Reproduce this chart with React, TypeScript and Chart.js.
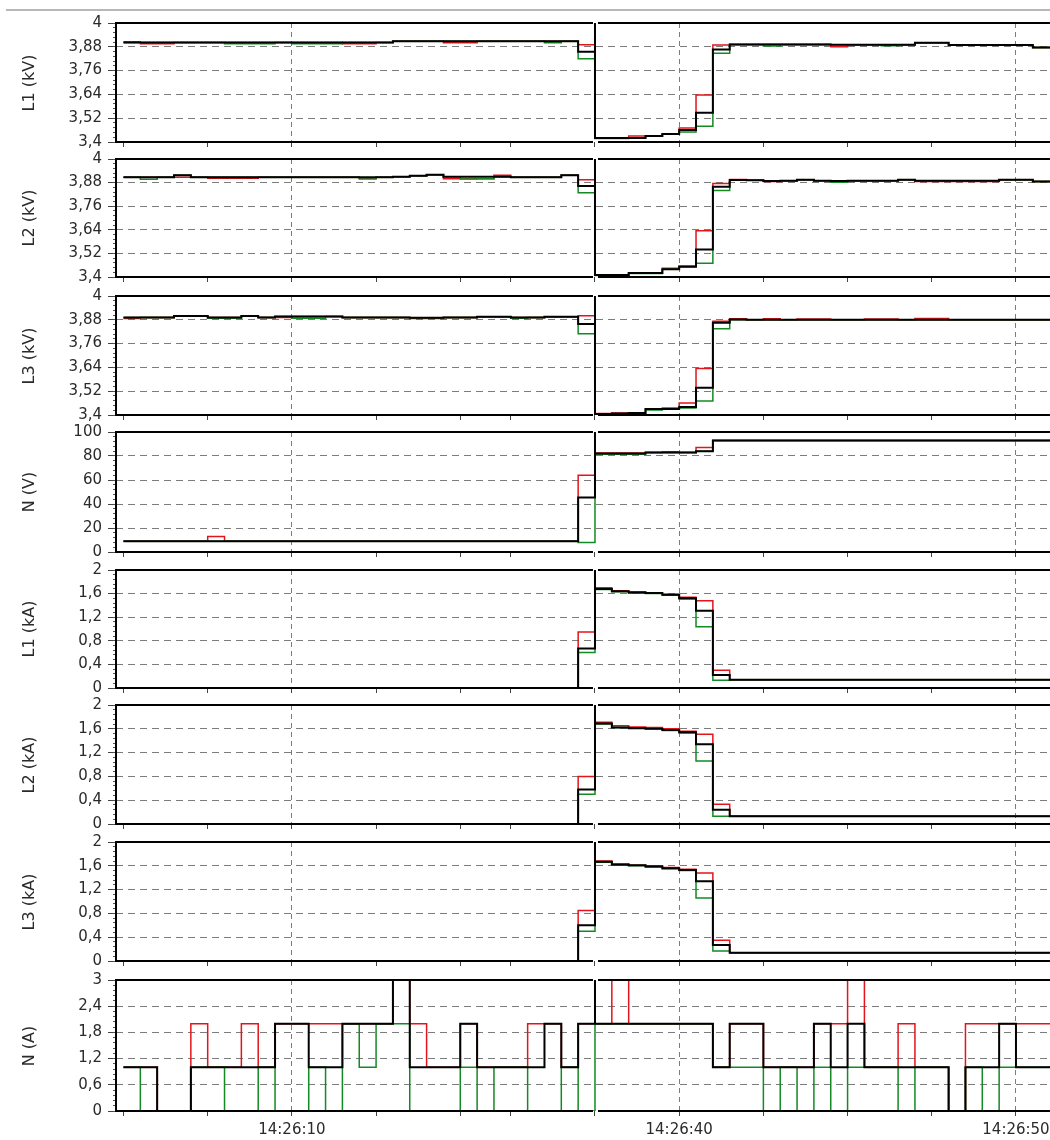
import React, { useEffect, useRef } from 'react';
import { Chart, registerables } from 'chart.js';

Chart.register(...registerables);

// ---------- x axis (sample index, 0.5 s per sample, recording break at sample 28) ----------
const timeTickIdx = [0, 5, 10, 15, 20, 23, 28, 33, 38, 43, 48, 53];
const timeTickLabels = ['', '', '14:26:10', '', '', '', '', '14:26:40', '', '', '', '14:26:50'];
const gridTimeIdx = [10, 33, 53];
const breakIdx = 28;

// ---------- y axis ticks ----------
const kvTicks = [3.4, 3.52, 3.64, 3.76, 3.88, 4];
const kvTickLabels = ['3,4', '3,52', '3,64', '3,76', '3,88', '4'];
const nvTicks = [0, 20, 40, 60, 80, 100];
const nvTickLabels = ['0', '20', '40', '60', '80', '100'];
const kaTicks = [0, 0.4, 0.8, 1.2, 1.6, 2];
const kaTickLabels = ['0', '0,4', '0,8', '1,2', '1,6', '2'];
const naTicks = [0, 0.6, 1.2, 1.8, 2.4, 3];
const naTickLabels = ['0', '0,6', '1,2', '1,8', '2,4', '3'];
const minorPerMajor = 5;

const panelTitles = ['L1 (kV)', 'L2 (kV)', 'L3 (kV)', 'N (V)', 'L1 (kA)', 'L2 (kA)', 'L3 (kA)', 'N (A)'];

// ---------- series (one value per 0.5 s sample) ----------
const l1kvRed = [
  3.905, 3.895, 3.895, 3.902, 3.902, 3.902, 3.902, 3.902, 3.902, 3.902,
  3.902, 3.902, 3.902, 3.895, 3.895, 3.902, 3.908, 3.908, 3.908, 3.9,
  3.9, 3.908, 3.908, 3.908, 3.908, 3.908, 3.908, 3.89,
  3.42, 3.42, 3.43, 3.43, 3.44, 3.47, 3.637, 3.889, 3.893, 3.893,
  3.893, 3.893, 3.893, 3.893, 3.88, 3.89, 3.89, 3.89, 3.89, 3.9,
  3.9, 3.889, 3.889, 3.889, 3.889, 3.889, 3.877, 3.877,
];
const l1kvGreen = [
  3.902, 3.902, 3.902, 3.902, 3.902, 3.902, 3.895, 3.895, 3.895, 3.902,
  3.895, 3.895, 3.895, 3.902, 3.902, 3.902, 3.908, 3.908, 3.908, 3.908,
  3.908, 3.908, 3.908, 3.908, 3.908, 3.9, 3.908, 3.82,
  3.418, 3.418, 3.42, 3.43, 3.44, 3.45, 3.48, 3.847, 3.89, 3.89,
  3.884, 3.89, 3.89, 3.89, 3.89, 3.89, 3.89, 3.885, 3.89, 3.9,
  3.9, 3.889, 3.889, 3.889, 3.889, 3.889, 3.877, 3.877,
];
const l1kvBlack = [
  3.902, 3.902, 3.902, 3.902, 3.902, 3.902, 3.902, 3.902, 3.902, 3.902,
  3.902, 3.902, 3.902, 3.902, 3.902, 3.902, 3.908, 3.908, 3.908, 3.908,
  3.908, 3.908, 3.908, 3.908, 3.908, 3.908, 3.908, 3.855,
  3.42, 3.42, 3.42, 3.43, 3.44, 3.46, 3.548, 3.867, 3.892, 3.892,
  3.892, 3.892, 3.892, 3.892, 3.89, 3.89, 3.89, 3.89, 3.89, 3.9,
  3.9, 3.889, 3.889, 3.889, 3.889, 3.889, 3.877, 3.877,
];

const l2kvRed = [
  3.907, 3.907, 3.907, 3.907, 3.907, 3.902, 3.902, 3.902, 3.907, 3.907,
  3.907, 3.907, 3.907, 3.907, 3.904, 3.907, 3.91, 3.915, 3.92, 3.9,
  3.9, 3.9, 3.918, 3.907, 3.907, 3.907, 3.918, 3.895,
  3.41, 3.41, 3.42, 3.42, 3.445, 3.455, 3.635, 3.876, 3.896, 3.892,
  3.885, 3.89, 3.895, 3.89, 3.888, 3.89, 3.89, 3.89, 3.895, 3.886,
  3.886, 3.886, 3.886, 3.886, 3.895, 3.895, 3.885, 3.885,
];
const l2kvGreen = [
  3.907, 3.897, 3.907, 3.918, 3.907, 3.907, 3.907, 3.907, 3.907, 3.907,
  3.907, 3.907, 3.907, 3.907, 3.898, 3.907, 3.91, 3.915, 3.92, 3.91,
  3.898, 3.9, 3.91, 3.907, 3.907, 3.907, 3.918, 3.829,
  3.408, 3.408, 3.418, 3.418, 3.44, 3.45, 3.47, 3.84, 3.893, 3.892,
  3.888, 3.89, 3.895, 3.89, 3.882, 3.89, 3.89, 3.89, 3.895, 3.889,
  3.889, 3.889, 3.889, 3.889, 3.895, 3.895, 3.885, 3.885,
];
const l2kvBlack = [
  3.907, 3.907, 3.907, 3.918, 3.907, 3.907, 3.907, 3.907, 3.907, 3.907,
  3.907, 3.907, 3.907, 3.907, 3.907, 3.907, 3.91, 3.915, 3.92, 3.91,
  3.91, 3.91, 3.91, 3.907, 3.907, 3.907, 3.918, 3.863,
  3.41, 3.41, 3.42, 3.42, 3.44, 3.453, 3.54, 3.859, 3.893, 3.892,
  3.888, 3.89, 3.895, 3.89, 3.888, 3.89, 3.89, 3.89, 3.895, 3.889,
  3.889, 3.889, 3.889, 3.889, 3.895, 3.895, 3.885, 3.885,
];

const l3kvRed = [
  3.886, 3.892, 3.892, 3.899, 3.899, 3.892, 3.892, 3.899, 3.892, 3.892,
  3.897, 3.897, 3.897, 3.892, 3.892, 3.892, 3.892, 3.887, 3.887, 3.892,
  3.892, 3.896, 3.896, 3.892, 3.892, 3.896, 3.896, 3.9,
  3.408, 3.41, 3.41, 3.43, 3.435, 3.46, 3.634, 3.873, 3.885, 3.88,
  3.885, 3.88, 3.884, 3.884, 3.88, 3.88, 3.884, 3.884, 3.88, 3.886,
  3.886, 3.88, 3.88, 3.88, 3.88, 3.88, 3.88, 3.88,
];
const l3kvGreen = [
  3.892, 3.892, 3.892, 3.899, 3.899, 3.888, 3.888, 3.899, 3.892, 3.897,
  3.888, 3.888, 3.897, 3.892, 3.892, 3.892, 3.892, 3.89, 3.89, 3.892,
  3.892, 3.896, 3.896, 3.888, 3.892, 3.896, 3.896, 3.81,
  3.4, 3.403, 3.408, 3.425, 3.43, 3.435, 3.47, 3.835, 3.88, 3.88,
  3.88, 3.88, 3.88, 3.88, 3.88, 3.88, 3.88, 3.88, 3.88, 3.88,
  3.88, 3.88, 3.88, 3.88, 3.88, 3.88, 3.88, 3.88,
];
const l3kvBlack = [
  3.892, 3.892, 3.892, 3.899, 3.899, 3.892, 3.892, 3.899, 3.892, 3.897,
  3.897, 3.897, 3.897, 3.892, 3.892, 3.892, 3.892, 3.89, 3.89, 3.892,
  3.892, 3.896, 3.896, 3.892, 3.892, 3.896, 3.896, 3.859,
  3.405, 3.407, 3.41, 3.43, 3.43, 3.44, 3.537, 3.865, 3.882, 3.88,
  3.88, 3.88, 3.88, 3.88, 3.88, 3.88, 3.88, 3.88, 3.88, 3.88,
  3.88, 3.88, 3.88, 3.88, 3.88, 3.88, 3.88, 3.88,
];

const nvRed = [
  9, 9, 9, 9, 9, 13, 9, 9, 9, 9,
  9, 9, 9, 9, 9, 9, 9, 9, 9, 9,
  9, 9, 9, 9, 9, 9, 9, 64,
  82.5, 82.5, 82.5, 83, 83, 83, 87, 93, 93, 93,
  93, 93, 93, 93, 93, 93, 93, 93, 93, 93,
  93, 93, 93, 93, 93, 93, 93, 93,
];
const nvGreen = [
  9, 9, 9, 9, 9, 9, 9, 9, 9, 9,
  9, 9, 9, 9, 9, 9, 9, 9, 9, 9,
  9, 9, 9, 9, 9, 9, 9, 8,
  81.5, 81.5, 81.5, 83, 83.5, 83, 84, 93, 93, 93,
  93, 93, 93, 93, 93, 93, 93, 93, 93, 93,
  93, 93, 93, 93, 93, 93, 93, 93,
];
const nvBlack = [
  9, 9, 9, 9, 9, 9, 9, 9, 9, 9,
  9, 9, 9, 9, 9, 9, 9, 9, 9, 9,
  9, 9, 9, 9, 9, 9, 9, 45.5,
  82, 82, 82, 83, 83, 83, 84, 93, 93, 93,
  93, 93, 93, 93, 93, 93, 93, 93, 93, 93,
  93, 93, 93, 93, 93, 93, 93, 93,
];

const l1kaRed = [
  0, 0, 0, 0, 0, 0, 0, 0, 0, 0,
  0, 0, 0, 0, 0, 0, 0, 0, 0, 0,
  0, 0, 0, 0, 0, 0, 0, 0.95,
  1.7, 1.65, 1.63, 1.61, 1.59, 1.54, 1.48, 0.3, 0.14, 0.14,
  0.14, 0.14, 0.14, 0.14, 0.14, 0.14, 0.14, 0.14, 0.14, 0.14,
  0.14, 0.14, 0.14, 0.14, 0.14, 0.14, 0.14, 0.14,
];
const l1kaGreen = [
  0, 0, 0, 0, 0, 0, 0, 0, 0, 0,
  0, 0, 0, 0, 0, 0, 0, 0, 0, 0,
  0, 0, 0, 0, 0, 0, 0, 0.6,
  1.67, 1.63, 1.61, 1.6, 1.57, 1.51, 1.04, 0.13, 0.14, 0.14,
  0.14, 0.14, 0.14, 0.14, 0.14, 0.14, 0.14, 0.14, 0.14, 0.14,
  0.14, 0.14, 0.14, 0.14, 0.14, 0.14, 0.14, 0.14,
];
const l1kaBlack = [
  0, 0, 0, 0, 0, 0, 0, 0, 0, 0,
  0, 0, 0, 0, 0, 0, 0, 0, 0, 0,
  0, 0, 0, 0, 0, 0, 0, 0.67,
  1.68, 1.64, 1.62, 1.61, 1.58, 1.52, 1.31, 0.22, 0.14, 0.14,
  0.14, 0.14, 0.14, 0.14, 0.14, 0.14, 0.14, 0.14, 0.14, 0.14,
  0.14, 0.14, 0.14, 0.14, 0.14, 0.14, 0.14, 0.14,
];

const l2kaRed = [
  0, 0, 0, 0, 0, 0, 0, 0, 0, 0,
  0, 0, 0, 0, 0, 0, 0, 0, 0, 0,
  0, 0, 0, 0, 0, 0, 0, 0.8,
  1.71, 1.65, 1.63, 1.62, 1.6, 1.56, 1.51, 0.33, 0.13, 0.13,
  0.13, 0.13, 0.13, 0.13, 0.13, 0.13, 0.13, 0.13, 0.13, 0.13,
  0.13, 0.13, 0.13, 0.13, 0.13, 0.13, 0.13, 0.13,
];
const l2kaGreen = [
  0, 0, 0, 0, 0, 0, 0, 0, 0, 0,
  0, 0, 0, 0, 0, 0, 0, 0, 0, 0,
  0, 0, 0, 0, 0, 0, 0, 0.5,
  1.68, 1.62, 1.61, 1.6, 1.57, 1.53, 1.06, 0.13, 0.13, 0.13,
  0.13, 0.13, 0.13, 0.13, 0.13, 0.13, 0.13, 0.13, 0.13, 0.13,
  0.13, 0.13, 0.13, 0.13, 0.13, 0.13, 0.13, 0.13,
];
const l2kaBlack = [
  0, 0, 0, 0, 0, 0, 0, 0, 0, 0,
  0, 0, 0, 0, 0, 0, 0, 0, 0, 0,
  0, 0, 0, 0, 0, 0, 0, 0.58,
  1.69, 1.62, 1.61, 1.6, 1.58, 1.54, 1.34, 0.24, 0.13, 0.13,
  0.13, 0.13, 0.13, 0.13, 0.13, 0.13, 0.13, 0.13, 0.13, 0.13,
  0.13, 0.13, 0.13, 0.13, 0.13, 0.13, 0.13, 0.13,
];

const l3kaRed = [
  0, 0, 0, 0, 0, 0, 0, 0, 0, 0,
  0, 0, 0, 0, 0, 0, 0, 0, 0, 0,
  0, 0, 0, 0, 0, 0, 0, 0.85,
  1.68, 1.63, 1.61, 1.6, 1.57, 1.54, 1.48, 0.35, 0.14, 0.14,
  0.14, 0.14, 0.14, 0.14, 0.14, 0.14, 0.14, 0.14, 0.14, 0.14,
  0.14, 0.14, 0.14, 0.14, 0.14, 0.14, 0.14, 0.14,
];
const l3kaGreen = [
  0, 0, 0, 0, 0, 0, 0, 0, 0, 0,
  0, 0, 0, 0, 0, 0, 0, 0, 0, 0,
  0, 0, 0, 0, 0, 0, 0, 0.5,
  1.66, 1.61, 1.6, 1.58, 1.55, 1.52, 1.06, 0.17, 0.14, 0.14,
  0.14, 0.14, 0.14, 0.14, 0.14, 0.14, 0.14, 0.14, 0.14, 0.14,
  0.14, 0.14, 0.14, 0.14, 0.14, 0.14, 0.14, 0.14,
];
const l3kaBlack = [
  0, 0, 0, 0, 0, 0, 0, 0, 0, 0,
  0, 0, 0, 0, 0, 0, 0, 0, 0, 0,
  0, 0, 0, 0, 0, 0, 0, 0.6,
  1.67, 1.62, 1.61, 1.59, 1.56, 1.53, 1.34, 0.27, 0.14, 0.14,
  0.14, 0.14, 0.14, 0.14, 0.14, 0.14, 0.14, 0.14, 0.14, 0.14,
  0.14, 0.14, 0.14, 0.14, 0.14, 0.14, 0.14, 0.14,
];

const naRed = [
  1, 1, 0, 0, 2, 1, 1, 2, 1, 2,
  2, 2, 2, 2, 2, 2, 3, 2, 1, 1,
  2, 1, 1, 1, 2, 2, 1, 2,
  2, 3, 2, 2, 2, 2, 2, 1, 2, 2,
  1, 1, 1, 2, 2, 3, 1, 1, 2, 1,
  1, 0, 2, 2, 2, 2, 2, 2,
];
const naGreen = [
  1, 0, 0, 0, 1, 1, 0, 0, 1, 0,
  0, 1, 0, 2, 1, 2, 2, 0, 0, 0,
  1, 0, 1, 1, 0, 0, 1, 0,
  2, 2, 2, 2, 2, 2, 2, 1, 1, 1,
  0, 1, 0, 1, 0, 1, 1, 1, 0, 1,
  1, 0, 1, 0, 1, 1, 1, 1,
];
const naBlack = [
  1, 1, 0, 0, 1, 1, 1, 1, 1, 2,
  2, 1, 1, 2, 2, 2, 3, 1, 1, 1,
  2, 1, 1, 1, 1, 2, 1, 2,
  2, 2, 2, 2, 2, 2, 2, 1, 2, 2,
  1, 1, 1, 2, 1, 2, 1, 1, 1, 1,
  1, 0, 1, 1, 2, 1, 1, 1,
];

// ---------- layout ----------
const CANVAS_W = 1100;
const AXIS_W = 116;
const PAD_TOP = 18;
const X_MIN = -0.445;
const X_MAX = 57.99;
const panelTops = [23, 159, 296, 432, 570, 705, 842, 980];
const panelHeights = [119, 118, 119, 120, 118, 119, 119, 131];
const RED = '#e3141b';
const GREEN = '#138a22';
const GRID = '#7c7c7c';
const TEXT = '#2a2a2a';
const FONT = 'DejaVu Sans';

const panels = [
  { ticks: kvTicks, labels: kvTickLabels, red: l1kvRed, green: l1kvGreen, black: l1kvBlack },
  { ticks: kvTicks, labels: kvTickLabels, red: l2kvRed, green: l2kvGreen, black: l2kvBlack },
  { ticks: kvTicks, labels: kvTickLabels, red: l3kvRed, green: l3kvGreen, black: l3kvBlack },
  { ticks: nvTicks, labels: nvTickLabels, red: nvRed, green: nvGreen, black: nvBlack },
  { ticks: kaTicks, labels: kaTickLabels, red: l1kaRed, green: l1kaGreen, black: l1kaBlack },
  { ticks: kaTicks, labels: kaTickLabels, red: l2kaRed, green: l2kaGreen, black: l2kaBlack },
  { ticks: kaTicks, labels: kaTickLabels, red: l3kaRed, green: l3kaGreen, black: l3kaBlack },
  { ticks: naTicks, labels: naTickLabels, red: naRed, green: naGreen, black: naBlack },
];

function toPoints(vals: number[], breakMarker?: number) {
  const pts: { x: number; y: number }[] = [];
  vals.forEach((v, i) => {
    if (breakMarker !== undefined && i === breakIdx) pts.push({ x: i, y: breakMarker });
    pts.push({ x: i, y: v });
  });
  pts.push({ x: vals.length, y: vals[vals.length - 1] });
  return pts;
}

function minorTicks(major: number[]) {
  const out: number[] = [];
  for (let i = 0; i < major.length - 1; i++) {
    const step = (major[i + 1] - major[i]) / minorPerMajor;
    for (let k = 0; k < minorPerMajor; k++) out.push(major[i] + step * k);
  }
  out.push(major[major.length - 1]);
  return out;
}

const framePlugin = {
  id: 'frame',
  afterDatasetsDraw(chart: any) {
    const { ctx, chartArea } = chart;
    const { left, top, right, bottom } = chartArea;
    const bx = chart.scales.x.getPixelForValue(breakIdx);
    ctx.save();
    ctx.strokeStyle = '#000';
    ctx.lineWidth = 2;
    ctx.beginPath();
    ctx.moveTo(bx - 2, top);
    ctx.lineTo(left, top);
    ctx.lineTo(left, bottom);
    ctx.lineTo(bx - 2, bottom);
    ctx.moveTo(bx + 3, top);
    ctx.lineTo(right + 10, top);
    ctx.moveTo(bx + 3, bottom);
    ctx.lineTo(right + 10, bottom);
    ctx.stroke();
    ctx.restore();
  },
};

function Panel({ index }: { index: number }) {
  const ref = useRef<HTMLCanvasElement>(null);
  const p = panels[index];
  const isBottom = index === panels.length - 1;
  const axisH = isBottom ? 40 : 18;
  const h = PAD_TOP + panelHeights[index] + axisH;

  useEffect(() => {
    const yMin = p.ticks[0];
    const yMax = p.ticks[p.ticks.length - 1];
    const minor = minorTicks(p.ticks);
    const common = { stepped: true, pointRadius: 0, fill: false, tension: 0 };
    const chart = new Chart(ref.current as HTMLCanvasElement, {
      type: 'line',
      data: {
        datasets: [
          { ...common, data: toPoints(p.black, yMax), borderColor: '#000', borderWidth: 2 },
          { ...common, data: toPoints(p.green), borderColor: GREEN, borderWidth: 1.5 },
          { ...common, data: toPoints(p.red), borderColor: RED, borderWidth: 1.5 },
        ],
      } as any,
      options: {
        responsive: false,
        animation: false,
        devicePixelRatio: 1,
        events: [],
        layout: { padding: { top: PAD_TOP, left: 0, right: 0, bottom: 0 } },
        plugins: { legend: { display: false }, tooltip: { enabled: false } },
        scales: {
          x: {
            type: 'linear',
            min: X_MIN,
            max: X_MAX,
            afterBuildTicks: (s: any) => {
              s.ticks = timeTickIdx.map((v) => ({ value: v }));
            },
            afterFit: (s: any) => {
              s.height = axisH;
            },
            ticks: {
              display: isBottom,
              autoSkip: false,
              maxRotation: 0,
              padding: 5,
              color: TEXT,
              font: { family: FONT, size: 15 },
              callback: (_v: any, i: number) => timeTickLabels[i] ?? '',
            },
            grid: {
              color: (c: any) => (c.tick && gridTimeIdx.includes(c.tick.value) ? GRID : 'rgba(0,0,0,0)'),
              tickColor: '#444',
              tickLength: 5,
              lineWidth: 1,
            },
            border: { display: false, dash: [5, 4] },
          },
          y: {
            type: 'linear',
            position: 'left',
            weight: 1,
            min: yMin,
            max: yMax,
            afterBuildTicks: (s: any) => {
              s.ticks = p.ticks.map((v) => ({ value: v }));
            },
            afterFit: (s: any) => {
              s.width = AXIS_W;
            },
            ticks: {
              autoSkip: false,
              padding: 6,
              color: TEXT,
              font: { family: FONT, size: 15 },
              callback: (_v: any, i: number) => p.labels[i] ?? '',
            },
            grid: {
              color: (c: any) => (c.index === 0 || c.index === p.ticks.length - 1 ? 'rgba(0,0,0,0)' : GRID),
              tickColor: '#444',
              tickLength: 8,
              lineWidth: 1,
            },
            border: { display: false, dash: [7, 5] },
          },
          yMinor: {
            type: 'linear',
            position: 'left',
            weight: 0,
            min: yMin,
            max: yMax,
            afterBuildTicks: (s: any) => {
              s.ticks = minor.map((v) => ({ value: v }));
            },
            afterFit: (s: any) => {
              s.width = 0;
            },
            ticks: { display: false, autoSkip: false },
            grid: {
              color: 'rgba(0,0,0,0)',
              drawOnChartArea: false,
              tickColor: '#555',
              tickLength: 3,
              lineWidth: 1,
            },
            border: { display: false },
          },
        },
      } as any,
      plugins: [framePlugin],
    });
    return () => chart.destroy();
  }, []);

  return (
    <canvas
      ref={ref}
      width={CANVAS_W}
      height={h}
      style={{ position: 'absolute', left: 0, top: panelTops[index] - PAD_TOP, width: CANVAS_W, height: h }}
    />
  );
}

export default function App() {
  return (
    <div
      style={{
        position: 'absolute',
        left: 0,
        top: 0,
        width: 1050,
        height: 1140,
        overflow: 'hidden',
        background: '#fff',
      }}
    >
      <div style={{ position: 'absolute', left: 6, top: 9, width: 1044, height: 2, background: '#b8b8b8' }} />
      {panels.map((_, i) => (
        <Panel key={i} index={i} />
      ))}
      {panelTitles.map((t, i) => (
        <div
          key={t + i}
          style={{
            position: 'absolute',
            left: 28,
            top: panelTops[i] + panelHeights[i] / 2,
            transform: 'translate(-50%, -50%) rotate(-90deg)',
            whiteSpace: 'nowrap',
            fontFamily: FONT,
            fontSize: 16,
            color: TEXT,
          }}
        >
          {t}
        </div>
      ))}
    </div>
  );
}
